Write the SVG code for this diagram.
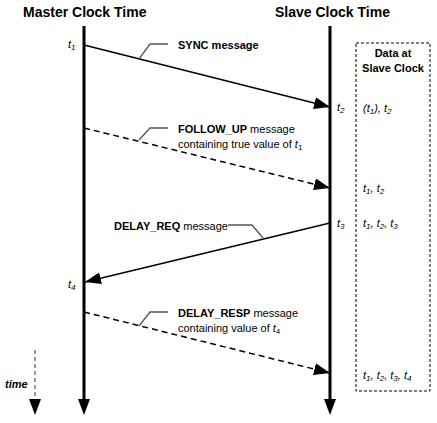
<svg xmlns="http://www.w3.org/2000/svg" width="437" height="423" viewBox="0 0 437 423">
<defs>
<marker id="ah" viewBox="0 0 16 12" refX="16" refY="6" markerWidth="16" markerHeight="12" markerUnits="userSpaceOnUse" orient="auto"><path d="M0,0 L16,6 L0,12 z" fill="#000"/></marker>
</defs>
<style>
text{font-family:"Liberation Sans",Arial,sans-serif;fill:#000}
.title{font-size:14px;font-weight:bold}
.lbl{font-size:11px}
.b{font-weight:bold}
.t{font-size:11px;font-style:italic}
.sub{font-size:8px}
.msg{stroke:#000;stroke-width:1.5;fill:none}
.dash{stroke-dasharray:6,4}
.lead{stroke:#555;stroke-width:1.3;fill:none}
.axis{stroke:#000;stroke-width:3;fill:none}
.head{fill:#000}
</style>
<rect width="437" height="423" fill="#fff"/>
<g id="master">
<text class="title" x="23" y="17">Master Clock Time</text>
<line class="axis" x1="84" y1="26" x2="84" y2="402"/>
<path class="head" d="M78,399 L90,399 L84,415 z"/>
</g>
<g id="slave">
<text class="title" x="275" y="17">Slave Clock Time</text>
<line class="axis" x1="330" y1="26" x2="330" y2="402"/>
<path class="head" d="M324,399 L336,399 L330,415 z"/>
</g>
<g id="timeaxis">
<line x1="35" y1="350" x2="35" y2="402" stroke="#777" stroke-width="1.5" stroke-dasharray="4,3"/>
<path class="head" d="M29,399 L41,399 L35,415 z"/>
<text x="5" y="388" font-size="11" font-style="italic" font-weight="bold">time</text>
</g>
<g id="databox">
<rect x="356" y="43" width="74" height="348" fill="none" stroke="#000" stroke-width="1" stroke-dasharray="3,2"/>
<text class="lbl b" x="393" y="57" text-anchor="middle">Data at</text>
<text class="lbl b" x="393" y="72" text-anchor="middle">Slave Clock</text>
<text class="t" x="363" y="112">(t<tspan class="sub" dy="2">1</tspan><tspan dy="-2">), t</tspan><tspan class="sub" dy="2">2</tspan></text>
<text class="t" x="363" y="192">t<tspan class="sub" dy="2">1</tspan><tspan dy="-2">, t</tspan><tspan class="sub" dy="2">2</tspan></text>
<text class="t" x="363" y="227">t<tspan class="sub" dy="2">1</tspan><tspan dy="-2">, t</tspan><tspan class="sub" dy="2">2</tspan><tspan dy="-2">, t</tspan><tspan class="sub" dy="2">3</tspan></text>
<text class="t" x="363" y="379">t<tspan class="sub" dy="2">1</tspan><tspan dy="-2">, t</tspan><tspan class="sub" dy="2">2</tspan><tspan dy="-2">, t</tspan><tspan class="sub" dy="2">3</tspan><tspan dy="-2">, t</tspan><tspan class="sub" dy="2">4</tspan></text>
</g>
<g id="timestamps">
<text class="t" x="68" y="48">t<tspan class="sub" dy="2">1</tspan></text>
<text class="t" x="337" y="111">t<tspan class="sub" dy="2">2</tspan></text>
<text class="t" x="337" y="227">t<tspan class="sub" dy="2">3</tspan></text>
<text class="t" x="68" y="288">t<tspan class="sub" dy="2">4</tspan></text>
</g>
<g id="connectors">
<line class="msg" x1="84" y1="45" x2="330" y2="107" marker-end="url(#ah)"/>
<line class="msg dash" x1="84" y1="128" x2="330" y2="188" marker-end="url(#ah)"/>
<line class="msg" x1="330" y1="223" x2="85" y2="282" marker-end="url(#ah)"/>
<line class="msg dash" x1="84" y1="312" x2="330" y2="373" marker-end="url(#ah)"/>
<polyline class="lead" points="139,59 150,44 168,44"/>
<polyline class="lead" points="139,140 150,128 168,128"/>
<polyline class="lead" points="263,238 252,225 228,225"/>
<polyline class="lead" points="139,326 150,312 168,312"/>
</g>
<g id="labels">
<text class="lbl b" x="178" y="49">SYNC message</text>
<text class="lbl" x="178" y="133"><tspan class="b">FOLLOW_UP</tspan> message</text>
<text class="lbl" x="178" y="148">containing true value of <tspan font-style="italic">t</tspan><tspan class="sub" dy="2">1</tspan></text>
<text class="lbl" x="114" y="230"><tspan class="b">DELAY_REQ</tspan> message</text>
<text class="lbl" x="178" y="317"><tspan class="b">DELAY_RESP</tspan> message</text>
<text class="lbl" x="178" y="332">containing value of <tspan font-style="italic">t</tspan><tspan class="sub" dy="2">4</tspan></text>
</g>
</svg>
